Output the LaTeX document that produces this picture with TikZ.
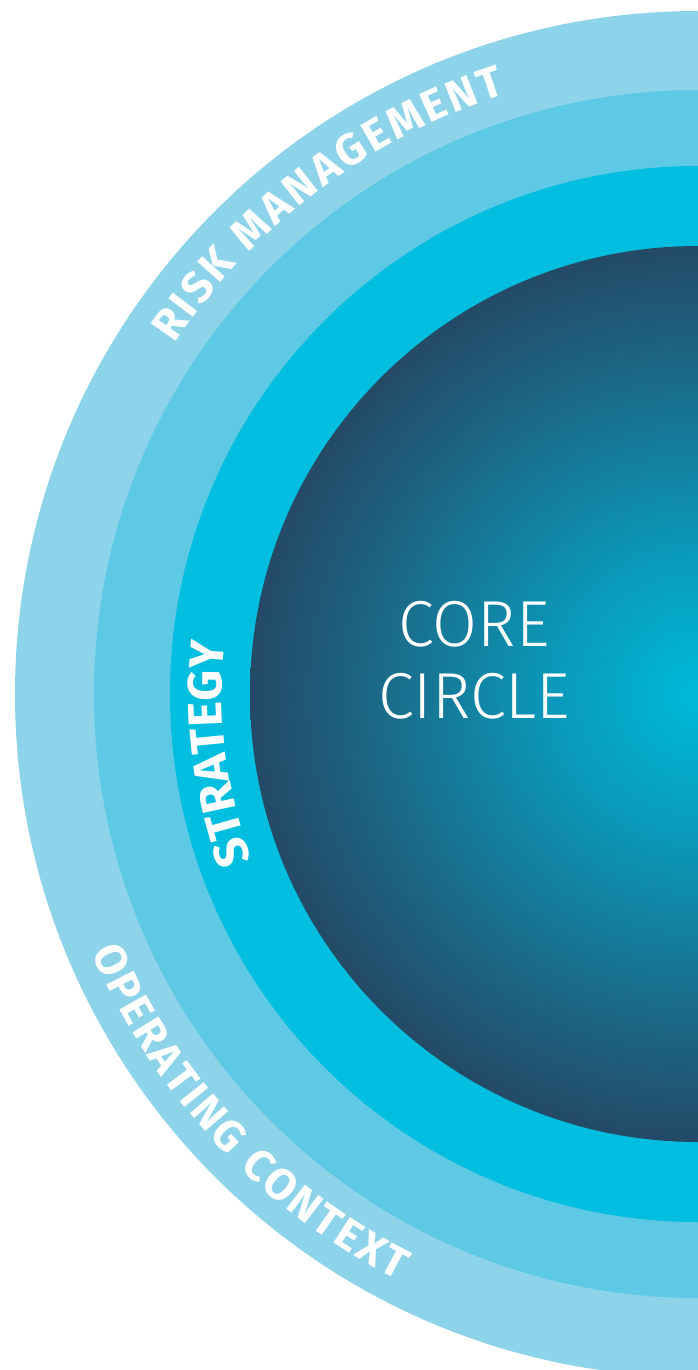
\documentclass[tikz,border=0pt]{standalone}
\usepackage{fontspec}
\usetikzlibrary{calc}
\newfontfamily\ringfont{Fira Sans}
\newfontfamily\lightfont{Fira Sans Light}
\definecolor{ringA}{RGB}{141,212,234}
\definecolor{ringB}{RGB}{94,201,228}
\definecolor{ringC}{RGB}{0,190,223}
\pgfdeclareradialshading{coreshade}{\pgfpoint{0bp}{0bp}}{%
  rgb(0bp)=(0,0.73,0.85);
  rgb(8bp)=(0.04,0.60,0.73);
  rgb(17bp)=(0.10,0.43,0.55);
  rgb(25bp)=(0.14,0.29,0.40);
  rgb(50bp)=(0.14,0.29,0.40)}
\tikzset{
  arcchar/.style={anchor=base, inner sep=0pt, outer sep=0pt, text=white},
  corelabel/.style={anchor=base, text=white, inner sep=0pt, font=\lightfont\fontsize{65}{65}\selectfont}
}
\newbox\arcbox
\newdimen\arcw
\newcommand\arcmeasure[1]{%
  \pgfinterruptpicture\global\setbox\arcbox=\hbox{#1}\endpgfinterruptpicture
  \global\arcw=\wd\arcbox}
% #1 name prefix, #2 font, #3 baseline radius, #4 centre angle,
% #5 direction (1 = clockwise, tops outward; -1 = anticlockwise, tops inward),
% #6 tracking (pt), #7 comma list of characters
\newcommand\arclabel[7]{%
  \xdef\arctot{0}%
  \foreach \ch in {#7}{%
    \arcmeasure{#2\ch}%
    \pgfmathsetmacro\arctmp{\arctot+\arcw+#6}%
    \xdef\arctot{\arctmp}}%
  \pgfmathsetmacro\arcstart{-(\arctot-#6)/2}%
  \xdef\arccur{\arcstart}%
  \foreach \ch [count=\i] in {#7}{%
    \arcmeasure{#2\ch}%
    \pgfmathsetmacro\arcmid{\arccur+\arcw/2}%
    \pgfmathsetmacro\arcang{#4-#5*\arcmid/#3*180/pi}%
    \pgfmathsetmacro\arcrot{\arcang-#5*90}%
    \pgfmathsetmacro\arctmp{\arccur+\arcw+#6}%
    \xdef\arccur{\arctmp}%
    \node[arcchar, rotate=\arcrot] (#1\i) at ($(C)+(\arcang:#3)$) {#2\ch};}%
}
\begin{document}
\begin{tikzpicture}[x=1pt,y=1pt]
\useasboundingbox (0,-1370) rectangle (698,0);
\clip (0,-1370) rectangle (698,0);
\coordinate (C) at (698,-694);
\fill[ringA] (C) circle[radius=683];
\fill[ringB] (C) circle[radius=604];
\fill[ringC] (C) circle[radius=528];
\shade[shading=coreshade] (C) circle[radius=448];
% ring labels
\arclabel{risk}{\ringfont\bfseries\fontsize{44}{44}\selectfont}{630}{127}{1}{3}{R,I,S,K,\ ,M,A,N,A,G,E,M,E,N,T}
\arclabel{strat}{\ringfont\bfseries\fontsize{48}{48}\selectfont}{476}{187.1}{1}{0}{S,T,R,A,T,E,G,Y}
\arclabel{oper}{\ringfont\bfseries\fontsize{44}{44}\selectfont}{659}{223}{-1}{2.5}{O,P,E,R,A,T,I,N,G,\ ,C,O,N,T,E,X,T}
% core text
\node[corelabel] (core1) at (474,-646) {CORE};
\node[corelabel] (core2) at (474,-718) {CIRCLE};
\end{tikzpicture}
\end{document}
